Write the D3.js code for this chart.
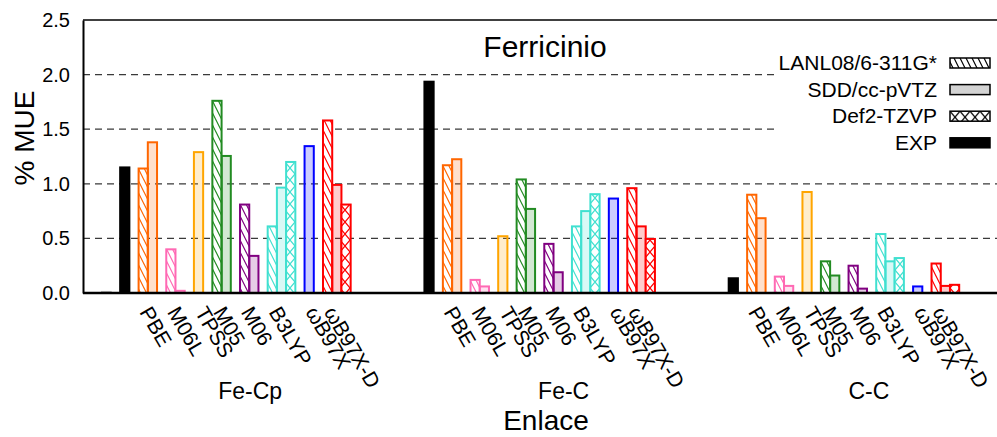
<!DOCTYPE html>
<html>
<head>
<meta charset="utf-8">
<script src="https://cdn.jsdelivr.net/npm/d3@7"></script>
<style>
  html, body { margin: 0; padding: 0; background: #fff; }
  svg text { font-family: "Liberation Sans", Arial, Helvetica, sans-serif; fill: #000; }
</style>
</head>
<body>
<script>
// Bonds (groups), functionals and basis sets
const bonds = ["Fe-Cp", "Fe-C", "C-C"];
const methods = ["PBE", "M06L", "TPSS", "M05", "M06", "B3LYP", "ωB97X", "ωB97X-D"];
const methodColors = ["#ff6600", "#ff69b4", "#ffa500", "#228b22", "#800080", "#40e0d0", "#0000ff", "#ff0000"];
const basisSets = ["LANL08/6-311G*", "SDD/cc-pVTZ", "Def2-TZVP", "EXP"];

// % MUE per bond (rows) and functional (columns); null = not computed
const lanlValues = [
  [1.14, 0.40, null, 1.76, 0.81, 0.61, null, 1.58],
  [1.17, 0.12, null, 1.04, 0.45, 0.61, null, 0.96],
  [0.90, 0.15, null, 0.29, 0.25, 0.54, null, 0.27]
];
const sddValues = [
  [1.38, 0.02, 1.29, 1.255, 0.34, 0.965, 1.345, 0.99],
  [1.225, 0.06, 0.52, 0.77, 0.19, 0.75, 0.865, 0.61],
  [0.685, 0.065, 0.925, 0.16, 0.04, 0.29, 0.06, 0.065]
];
const def2Values = [
  [null, null, null, null, null, 1.20, null, 0.81],
  [null, null, null, null, null, 0.905, null, 0.495],
  [null, null, null, null, null, 0.32, null, 0.075]
];
const expValues = [1.15, 1.935, 0.135];
const greyValues = [0.012, null, null];
const yTicks = [0.0, 0.5, 1.0, 1.5, 2.0, 2.5];

const W = 997, H = 437;
const svg = d3.select("body").append("svg").attr("width", W).attr("height", H);

const plot = { left: 83, right: 997, top: 20, bottom: 293 };
const x = d3.scaleLinear().domain([-2.03, 97.1]).range([plot.left, plot.right]);
const y = d3.scaleLinear().domain([0, 2.5]).range([plot.bottom, plot.top]);
const slotW = x(1) - x(0);
const slotsPerBond = 33;

// hatch patterns per colour
const defs = svg.append("defs");
function makePatterns(key, color) {
  const h = defs.append("pattern").attr("id", "hatch-" + key)
    .attr("patternUnits", "userSpaceOnUse").attr("width", 6).attr("height", 12);
  h.append("rect").attr("width", 6).attr("height", 12).attr("fill", "#fff");
  h.append("path").attr("d", "M-3,-6 L9,18 M-9,-6 L3,18 M3,-6 L15,18")
    .attr("stroke", color).attr("stroke-width", 1.2).attr("fill", "none");
  const c = defs.append("pattern").attr("id", "cross-" + key)
    .attr("patternUnits", "userSpaceOnUse").attr("width", 10).attr("height", 12);
  c.append("rect").attr("width", 10).attr("height", 12).attr("fill", "#fff");
  c.append("path").attr("d", "M-2,-2.4 L12,14.4 M12,-2.4 L-2,14.4")
    .attr("stroke", color).attr("stroke-width", 1.2).attr("fill", "none");
}
methodColors.forEach((c, i) => makePatterns(i, c));
makePatterns("k", "#000");

// build bar list and label positions
const bars = [];
const labels = [];
bonds.forEach((b, g) => {
  const base = g * slotsPerBond;
  if (greyValues[g] != null) bars.push({ slot: base, v: greyValues[g], kind: "grey" });
  bars.push({ slot: base + 2, v: expValues[g], kind: "exp" });
  let s = base + 4;
  methods.forEach((m, i) => {
    labels.push({ slot: s, text: m });
    const series = [[lanlValues, "lanl"], [sddValues, "sdd"], [def2Values, "def2"]];
    let n = 0;
    series.forEach(([arr, kind]) => {
      const v = arr[g][i];
      if (v != null) { bars.push({ slot: s + n, v, kind, ci: i }); n++; }
    });
    s += n + 1;
  });
});

// grid lines
svg.append("g").selectAll("line").data(yTicks.filter(t => t > 0 && t < 2.5)).join("line")
  .attr("x1", plot.left).attr("x2", plot.right)
  .attr("y1", d => y(d)).attr("y2", d => y(d))
  .attr("stroke", "#3a3a3a").attr("stroke-width", 1.3).attr("stroke-dasharray", "7,5");

// bars
svg.append("g").selectAll("rect").data(bars).join("rect")
  .attr("x", d => x(d.slot))
  .attr("y", d => y(d.v))
  .attr("width", slotW)
  .attr("height", d => y(0) - y(d.v))
  .attr("fill", d => {
    if (d.kind === "exp") return "#000";
    if (d.kind === "grey") return "#bbb";
    if (d.kind === "lanl") return `url(#hatch-${d.ci})`;
    if (d.kind === "def2") return `url(#cross-${d.ci})`;
    const c = d3.color(methodColors[d.ci]); c.opacity = 0.2; return c.formatRgb();
  })
  .attr("stroke", d => d.kind === "exp" ? "#000" : d.kind === "grey" ? "#bbb" : methodColors[d.ci])
  .attr("stroke-width", d => d.kind === "grey" ? 1.5 : 2);

// frame lines
svg.append("line").attr("x1", plot.left).attr("x2", plot.right).attr("y1", plot.top).attr("y2", plot.top)
  .attr("stroke", "#000").attr("stroke-width", 1.5);
svg.append("line").attr("x1", plot.left).attr("x2", plot.right).attr("y1", plot.bottom).attr("y2", plot.bottom)
  .attr("stroke", "#000").attr("stroke-width", 2.5);

// y axis
const yAxis = svg.append("g").attr("transform", `translate(${plot.left},0)`)
  .call(d3.axisLeft(y).tickValues(yTicks).tickSize(0).tickPadding(13).tickFormat(d3.format(".1f")));
yAxis.select(".domain").attr("stroke-width", 2);
yAxis.selectAll("text").style("font-size", "20px");

// functional labels
const labelMap = new Map(labels.map(l => [l.slot, l.text]));
const xAxis = svg.append("g").attr("transform", `translate(0,${plot.bottom})`)
  .call(d3.axisBottom(x).tickValues(labels.map(l => l.slot)).tickSize(0).tickFormat(s => labelMap.get(s)));
xAxis.select(".domain").remove();
xAxis.selectAll("text")
  .attr("x", 0).attr("y", 0).attr("dy", 0)
  .attr("text-anchor", "start")
  .attr("transform", "translate(0,19) rotate(60)")
  .style("font-size", "21px");

// bond labels
const bondLabelSlot = [16.1, 17.1, 17.2];
svg.append("g").selectAll("text").data(bonds).join("text")
  .attr("x", (d, g) => x(g * slotsPerBond + bondLabelSlot[g]))
  .attr("y", 399)
  .attr("text-anchor", "middle")
  .style("font-size", "23px")
  .text(d => d);

// axis titles and chart title
svg.append("text").attr("x", 546).attr("y", 430).attr("text-anchor", "middle")
  .style("font-size", "28px").text("Enlace");
svg.append("text").attr("transform", "translate(34,138) rotate(-90)").attr("text-anchor", "middle")
  .style("font-size", "28px").text("% MUE");
svg.append("text").attr("x", 545).attr("y", 57).attr("text-anchor", "middle")
  .style("font-size", "30px").text("Ferricinio");

// legend
const legend = svg.append("g");
legend.append("rect").attr("x", 779).attr("y", 46).attr("width", W - 779).attr("height", 110).attr("fill", "#fff");
const legendFills = ["url(#hatch-k)", "#d3d3d3", "url(#cross-k)", "#000"];
const rows = legend.selectAll("g.row").data(basisSets).join("g").attr("class", "row")
  .attr("transform", (d, i) => `translate(0,${70 + i * 26.6})`);
rows.append("text").attr("x", 937).attr("y", 0).attr("text-anchor", "end")
  .style("font-size", "21px").text(d => d);
rows.append("rect").attr("x", 950).attr("y", -12).attr("width", 40).attr("height", 10)
  .attr("fill", (d, i) => legendFills[i]).attr("stroke", "#000").attr("stroke-width", 1.5);
</script>
</body>
</html>
